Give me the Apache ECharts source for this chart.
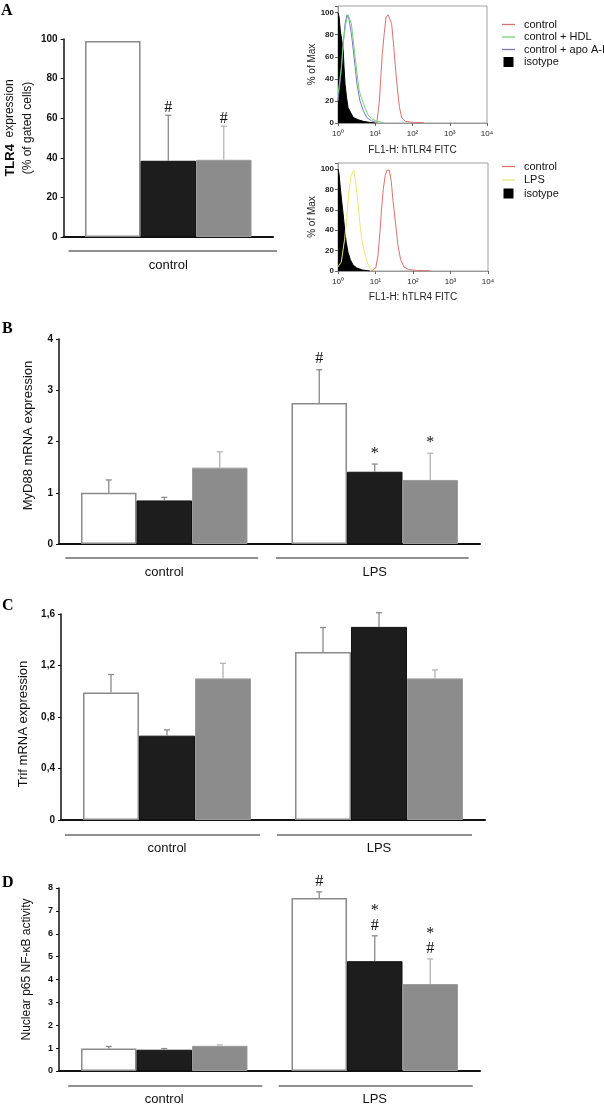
<!DOCTYPE html>
<html><head><meta charset="utf-8">
<script src="https://cdn.jsdelivr.net/npm/echarts@6/dist/echarts.min.js"></script>
<style>html,body{margin:0;padding:0;background:#fff}#c{width:604px;height:1106px}</style>
</head><body><div id="c"></div><script>
// ---------- DATA ----------
const treatments = ['medium', 'HDL', 'apo A-I'];
// Panel A: TLR4 expression (% of gated cells)
const aCats = ['control'];
const aWhite = [99], aBlack = [38.5], aGray = [39];
const aWhiteErr = [0], aBlackErr = [23], aGrayErr = [17];
const aWhiteMark = [''], aBlackMark = ['#'], aGrayMark = ['#'];
// Panel A histograms (fluorescence intensity vs % of max)
const topControlX = [11.0, 12.9, 14.1, 15.5, 17.4, 19.5, 22.4, 25.1, 27.5, 30.9, 34.7, 39.8, 44.7, 51.3, 64.6, 107, 200];
const topControlY = [0, 20, 41, 63, 81, 96, 98, 97, 90, 72, 51, 29, 14, 5, 1.5, 0.5, 0.3];
const topHdlX = [1, 1.23, 1.41, 1.62, 1.86, 2.09, 2.29, 2.57, 2.88, 3.24, 3.72, 4.27, 5.25, 6.46, 7.94, 11.0, 16.6];
const topHdlY = [26, 50, 75, 90, 98, 97, 90, 75, 60, 45, 29, 23, 14, 7, 4, 1.5, 0.5];
const topApoX = [1, 1.20, 1.38, 1.55, 1.74, 1.95, 2.29, 2.57, 2.88, 3.24, 3.89, 4.79, 5.89, 7.94, 11.0];
const topApoY = [20, 45, 72, 90, 98, 95, 81, 66, 51, 35, 20, 11, 5, 2, 0.5];
const topIsoX = [1, 1.07, 1.15, 1.26, 1.38, 1.45, 1.55, 1.70, 1.86, 2.14, 2.57, 3.47, 4.79, 7.24, 10];
const topIsoY = [100, 96, 84, 75, 66, 51, 35, 23, 14, 10, 5, 3, 1.5, 0.5, 0];
const botControlX = [7.76, 10.2, 11.7, 13.2, 14.5, 16.2, 18.2, 20.4, 23.4, 26.3, 29.5, 34.7, 39.8, 46.8, 57.5, 75.9, 126, 288];
const botControlY = [0, 3, 16, 39, 61, 81, 94, 99, 99, 88, 68, 45, 25, 11, 4, 1.5, 0.5, 0.2];
const botLpsX = [1, 1.23, 1.51, 1.74, 1.95, 2.24, 2.63, 2.95, 3.39, 3.80, 4.27, 5.01, 5.75, 6.76, 8.32, 10.7];
const botLpsY = [4, 9, 32, 55, 78, 94, 99, 88, 68, 48, 32, 19, 11, 4, 1, 0];
const botIsoX = [1, 1.07, 1.15, 1.26, 1.38, 1.51, 1.66, 1.86, 2.14, 2.51, 3.16, 4.47, 7.08];
const botIsoY = [100, 95, 82, 68, 55, 40, 28, 18, 11, 6, 3, 1, 0];
// Panels B-D: groups
const groups = ['control', 'LPS'];
const bWhite = [1.0, 2.75], bBlack = [0.85, 1.41], bGray = [1.49, 1.25];
const bWhiteErr = [0.25, 0.65], bBlackErr = [0.06, 0.15], bGrayErr = [0.31, 0.52];
const bWhiteMark = ['', '#'], bBlackMark = ['', '*'], bGrayMark = ['', '*'];
const cWhite = [0.99, 1.305], cBlack = [0.655, 1.50], cGray = [1.10, 1.10];
const cWhiteErr = [0.14, 0.19], cBlackErr = [0.045, 0.11], cGrayErr = [0.117, 0.065];
const cWhiteMark = ['', ''], cBlackMark = ['', ''], cGrayMark = ['', ''];
const dWhite = [0.98, 7.56], dBlack = [0.93, 4.8], dGray = [1.1, 3.8];
const dWhiteErr = [0.09, 0.27], dBlackErr = [0.05, 1.11], dGrayErr = [0.04, 1.1];
const dWhiteMark = ['', '#'], dBlackMark = ['', '*\n#'], dGrayMark = ['', '*\n#'];

// ---------- STYLE ----------
const SANS = '"Liberation Sans", Arial, Helvetica, sans-serif';
const SERIF = '"Liberation Serif", "Times New Roman", serif';
const fillColors = ['#ffffff', '#1d1d1d', '#8c8c8c'];
const borderColors = ['#8a8a8a', '#111111', '#9c9c9c'];
const errColors = ['#8a8a8a', '#8a8a8a', '#b4b4b4'];

const chart = echarts.init(document.getElementById('c'), null, {renderer: 'canvas'});

const grids = [
  {left: 63, top: 39, width: 210, height: 198},   // 0 A bars
  {left: 338, top: 6, width: 149, height: 117},   // 1 top histogram
  {left: 338, top: 163, width: 150, height: 108}, // 2 bottom histogram
  {left: 59, top: 339, width: 421, height: 205},  // 3 B
  {left: 61, top: 614, width: 424, height: 206},  // 4 C
  {left: 59, top: 888, width: 421, height: 183}   // 5 D
];
grids[1].show = true; grids[1].borderColor = '#a0a0a0'; grids[1].borderWidth = 1;
grids[2].show = true; grids[2].borderColor = '#a0a0a0'; grids[2].borderWidth = 1;

const xAxes = [], yAxes = [], series = [];

function catX(g, cats) {
  return {type: 'category', gridIndex: g, data: cats,
    axisLine: {lineStyle: {color: '#111', width: 2}}, axisTick: {show: false},
    axisLabel: {margin: 22, fontSize: 13, color: '#111', fontFamily: SANS}, splitLine: {show: false}};
}
function valY(g, max, interval, fontSize, name, nameGap, fmt, nameStyle) {
  return {type: 'value', gridIndex: g, min: 0, max: max, interval: interval,
    axisLine: {show: true, lineStyle: {color: '#111', width: 1.5}},
    axisTick: {show: true, length: 3, lineStyle: {color: '#111'}},
    axisLabel: {fontSize: fontSize, fontWeight: 'bold', color: '#111', margin: 6, fontFamily: SANS, formatter: fmt},
    splitLine: {show: false},
    name: name, nameLocation: 'middle', nameRotate: 90, nameGap: nameGap,
    nameTextStyle: Object.assign({fontSize: 13, color: '#111', fontFamily: SANS}, nameStyle || {})};
}
function logX(g, nameGap) {
  return {type: 'log', logBase: 10, gridIndex: g, min: 1, max: 10000,
    axisLine: {lineStyle: {color: '#999'}}, axisTick: {show: true, length: 3, lineStyle: {color: '#666'}},
    axisLabel: {fontSize: 8, color: '#222', margin: 7, fontFamily: SANS,
      formatter: v => '10' + '⁰¹²³⁴'[Math.round(Math.log10(v))]},
    splitLine: {show: false}, minorTick: {show: false},
    name: 'FL1-H: hTLR4 FITC', nameLocation: 'middle', nameGap: nameGap,
    nameTextStyle: {fontSize: 10, color: '#222', fontFamily: SANS}};
}
function pctY(g) {
  return {type: 'value', gridIndex: g, min: 0, max: 106, interval: 20,
    axisLine: {show: true, lineStyle: {color: '#999'}}, axisTick: {show: true, length: 3, lineStyle: {color: '#666'}},
    axisLabel: {fontSize: 8, fontWeight: 'bold', color: '#222', margin: 4, fontFamily: SANS,
      formatter: v => (v % 20 === 0 ? String(v) : '')},
    splitLine: {show: false},
    name: '% of Max', nameLocation: 'middle', nameRotate: 90, nameGap: 20,
    nameTextStyle: {fontSize: 10, color: '#222', fontFamily: SANS}};
}

// axes
xAxes[0] = catX(0, aCats);
yAxes[0] = valY(0, 100, 20, 10, '{b|TLR4}  expression\n(% of gated cells)', 24, null,
  {fontSize: 12, lineHeight: 18, padding: [0, 0, 0, 20], rich: {b: {fontSize: 13, fontWeight: 'bold', fontFamily: SANS}}});
xAxes[1] = logX(1, 22); yAxes[1] = pctY(1);
xAxes[2] = logX(2, 21); yAxes[2] = pctY(2);
xAxes[3] = catX(3, groups);
yAxes[3] = valY(3, 4, 1, 10, 'MyD88 mRNA expression', 24, null, {padding: [0, 0, 0, 12]});
xAxes[4] = catX(4, groups);
yAxes[4] = valY(4, 1.6, 0.4, 10, 'Trif mRNA expression', 26, v => v === 0 ? '0' : v.toFixed(1).replace('.', ','),
  {padding: [0, 14, 0, 0]});
xAxes[5] = catX(5, groups);
yAxes[5] = valY(5, 8, 1, 9, 'Nuclear p65 NF-\u03BAB activity', 26, null, {fontSize: 12, padding: [0, 0, 0, 20]});

// bar panels
const panels = [
  {key: 'A', g: 0, cats: aCats, means: [aWhite, aBlack, aGray], errs: [aWhiteErr, aBlackErr, aGrayErr],
   marks: [aWhiteMark, aBlackMark, aGrayMark], bw: 55.5, half: 0.498, shift: -4.5, drop: 14, markGap: 0},
  {key: 'B', g: 3, cats: groups, means: [bWhite, bBlack, bGray], errs: [bWhiteErr, bBlackErr, bGrayErr],
   marks: [bWhiteMark, bBlackMark, bGrayMark], bw: 55.5, half: 0.458, shift: 2.5, drop: 14, markGap: 3},
  {key: 'C', g: 4, cats: groups, means: [cWhite, cBlack, cGray], errs: [cWhiteErr, cBlackErr, cGrayErr],
   marks: [cWhiteMark, cBlackMark, cGrayMark], bw: 56, half: 0.46, shift: 4.5, drop: 15, markGap: 3},
  {key: 'D', g: 5, cats: groups, means: [dWhite, dBlack, dGray], errs: [dWhiteErr, dBlackErr, dGrayErr],
   marks: [dWhiteMark, dBlackMark, dGrayMark], bw: 55.5, half: 0.461, shift: -1, drop: 15, markGap: 3}
];

panels.forEach(p => {
  for (let k = 0; k < 3; k++) {
    series.push({type: 'bar', name: p.key + ' ' + treatments[k], xAxisIndex: p.g, yAxisIndex: p.g,
      data: p.means[k], barWidth: p.bw, barGap: '0%', silent: true,
      itemStyle: {color: fillColors[k], borderColor: borderColors[k], borderWidth: k === 0 ? 1.5 : 1}});
  }
  const data = [], texts = [];
  p.cats.forEach((c, ci) => {
    for (let k = 0; k < 3; k++) { data.push([ci, p.means[k][ci], p.errs[k][ci], k]); texts.push(p.marks[k][ci]); }
  });
  series.push({type: 'custom', name: p.key + ' error', xAxisIndex: p.g, yAxisIndex: p.g, clip: false, silent: true, z: 5,
    data: data, encode: {x: 0, y: 1},
    renderItem: (params, api) => {
      const c = api.value(0), m = api.value(1), e = api.value(2), k = api.value(3);
      const base = api.coord([c, m]);
      const x = base[0] + (k - 1) * p.bw;
      const children = [];
      let topY = base[1];
      if (e > 0) {
        const top = api.coord([c, m + e]);
        topY = top[1];
        children.push({type: 'line', shape: {x1: x, y1: base[1], x2: x, y2: top[1]}, style: {stroke: errColors[k], lineWidth: 1.3}});
        children.push({type: 'line', shape: {x1: x - 3, y1: top[1], x2: x + 3, y2: top[1]}, style: {stroke: errColors[k], lineWidth: 1.3}});
      }
      const t = texts[params.dataIndex];
      if (t) children.push({type: 'text', style: {text: t, x: x, y: topY - p.markGap, align: 'center', verticalAlign: 'bottom',
        fontSize: 16, fontFamily: SERIF, fill: '#111', lineHeight: 15}});
      return {type: 'group', children: children};
    }});
  series.push({type: 'custom', name: p.key + ' groups', xAxisIndex: p.g, yAxisIndex: p.g, clip: false, silent: true,
    data: p.cats.map((c, i) => [i, 0]), encode: {x: 0, y: 1},
    renderItem: (params, api) => {
      const pt = api.coord([api.value(0), 0]);
      const w = api.size([1, 0])[0];
      const y = pt[1] + p.drop;
      return {type: 'line', shape: {x1: pt[0] - w * p.half - p.shift, y1: y, x2: pt[0] + w * p.half - p.shift, y2: y},
        style: {stroke: '#222', lineWidth: 1}};
    }});
});

// histograms
const zip = (xs, ys) => xs.map((x, i) => [x, ys[i]]);
function hist(name, g, xs, ys, color, filled) {
  const s = {type: 'line', name: name, xAxisIndex: g, yAxisIndex: g, data: zip(xs, ys), symbol: 'none', showSymbol: false,
    silent: true, lineStyle: {color: color, width: 1}, itemStyle: {color: color}};
  if (filled) { s.areaStyle = {color: color, opacity: 1}; }
  return s;
}
series.push(hist('isotype', 1, topIsoX, topIsoY, '#000', true));
series.push(hist('control', 1, topControlX, topControlY, '#d9736c'));
series.push(hist('control + apo A-I', 1, topApoX, topApoY, '#7a78b8'));
series.push(hist('control + HDL', 1, topHdlX, topHdlY, '#74d47a'));
series.push(hist('isotype', 2, botIsoX, botIsoY, '#000', true));
series.push(hist('LPS', 2, botLpsX, botLpsY, '#e9e77a'));
series.push(hist('control', 2, botControlX, botControlY, '#d9736c'));

const squareIcon = 'path://M0,0L10,0L10,10L0,10Z';
const lineIcon = 'path://M0,0L13,0L13,1.3L0,1.3Z';
const legendText = {fontSize: 11, color: '#111', fontFamily: SANS, padding: [0, 0, 0, 4]};
const option = {
  animation: false,
  backgroundColor: '#fff',
  grid: grids,
  xAxis: xAxes,
  yAxis: yAxes,
  legend: [
    {orient: 'vertical', left: 497, top: 14, itemWidth: 13, itemHeight: 10, itemGap: 1.5, selectedMode: false,
     textStyle: legendText,
     data: [{name: 'control', icon: lineIcon}, {name: 'control + HDL', icon: lineIcon},
            {name: 'control + apo A-I', icon: lineIcon}, {name: 'isotype', icon: squareIcon}]},
    {orient: 'vertical', left: 497, top: 156, itemWidth: 13, itemHeight: 10, itemGap: 2.5, selectedMode: false,
     textStyle: legendText,
     data: [{name: 'control', icon: lineIcon}, {name: 'LPS', icon: lineIcon}, {name: 'isotype', icon: squareIcon}]}
  ],
  graphic: [
    {type: 'text', left: 1, top: 3, style: {text: 'A', fontSize: 16, fontWeight: 'bold', fontFamily: SERIF, fill: '#000'}},
    {type: 'text', left: 2, top: 321, style: {text: 'B', fontSize: 16, fontWeight: 'bold', fontFamily: SERIF, fill: '#000'}},
    {type: 'text', left: 2, top: 598, style: {text: 'C', fontSize: 16, fontWeight: 'bold', fontFamily: SERIF, fill: '#000'}},
    {type: 'text', left: 2, top: 875, style: {text: 'D', fontSize: 16, fontWeight: 'bold', fontFamily: SERIF, fill: '#000'}}
  ],
  series: series
};
chart.setOption(option);
</script></body></html>
